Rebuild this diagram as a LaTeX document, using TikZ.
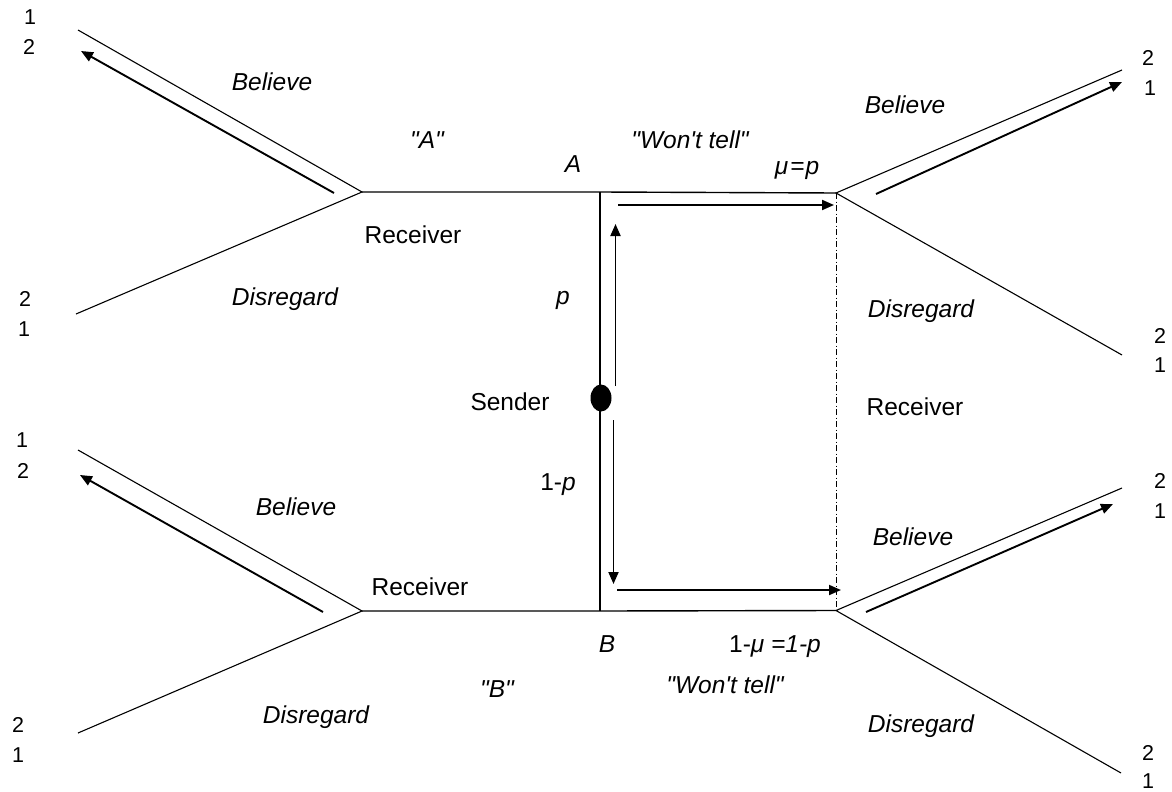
\documentclass[tikz,border=0pt]{standalone}
\usepackage{fontspec}
\setmainfont{Liberation Sans}
\usetikzlibrary{arrows.meta,shapes.geometric}
\newcommand{\dq}{\textquotedbl}
\newcommand{\sq}{\textquotesingle}
\begin{document}
\begin{tikzpicture}[x=1pt,y=-1pt,
  branch/.style={line width=1.1pt},
  trunk/.style={line width=1.4pt},
  flow/.style={line width=1.9pt,-{Triangle[length=12pt,width=10pt]}},
  infoset/.style={line width=0.9pt,dash pattern=on 6pt off 2.5pt on 1pt off 2.5pt},
  lab/.style={anchor=base,inner sep=0pt,font=\fontsize{24.5}{28}\selectfont},
  ilab/.style={lab,font=\fontsize{24.5}{28}\selectfont\itshape},
  pay/.style={anchor=base,inner sep=0pt,font=\fontsize{21.5}{25}\selectfont}]
\useasboundingbox (0,0) rectangle (1172,792);

% decision points
\coordinate (RA) at (362,192);
\coordinate (SA) at (600,192);
\coordinate (SB) at (600,611);
\coordinate (RB) at (362,611);
\coordinate (RW1) at (836,193);
\coordinate (RW2) at (836,610.5);
% terminal points
\coordinate (LA1) at (78,30);
\coordinate (LA2) at (76,314);
\coordinate (LB1) at (78,450);
\coordinate (LB2) at (78,733);
\coordinate (RW1a) at (1122,70);
\coordinate (RW1b) at (1122,355);
\coordinate (RW2a) at (1122,488);
\coordinate (RW2b) at (1121,773);

% game tree
\draw[trunk] (RA) -- (SA) -- (RW1);
\draw[trunk] (RB) -- (SB) -- (RW2);
\draw[trunk] (SA) -- (SB);
\draw[branch] (LA1) -- (RA) -- (LA2);
\draw[branch] (LB1) -- (RB) -- (LB2);
\draw[branch] (RW1a) -- (RW1) -- (RW1b);
\draw[branch] (RW2a) -- (RW2) -- (RW2b);
\draw[infoset] (RW1) -- (RW2);

% sender node
\node[fill=black,ellipse,minimum width=21pt,minimum height=27pt,inner sep=0pt] (S) at (601,398) {};

% equilibrium path arrows
\coordinate (a1s) at (334,193); \coordinate (a1e) at (81,51);
\coordinate (a2s) at (323,612); \coordinate (a2e) at (80,475);
\coordinate (a3s) at (876,194); \coordinate (a3e) at (1122,82);
\coordinate (a4s) at (866,612); \coordinate (a4e) at (1113,504);
\coordinate (h1s) at (618,205); \coordinate (h1e) at (834,205);
\coordinate (h2s) at (617,590); \coordinate (h2e) at (841,590);
\coordinate (v1s) at (615.5,386); \coordinate (v1e) at (615.5,224);
\coordinate (v2s) at (613.5,420); \coordinate (v2e) at (613.5,584);
\draw[flow] (a1s) -- (a1e);
\draw[flow] (a2s) -- (a2e);
\draw[flow] (a3s) -- (a3e);
\draw[flow] (a4s) -- (a4e);
\draw[flow] (h1s) -- (h1e);
\draw[flow] (h2s) -- (h2e);
\draw[flow] (v1s) -- (v1e);
\draw[flow] (v2s) -- (v2e);

% payoffs
\node[pay] (p1) at (30,25) {1};   \node[pay] (p2) at (29,55) {2};
\node[pay] (p3) at (25,306) {2};  \node[pay] (p4) at (24,336) {1};
\node[pay] (p5) at (22,447) {1};  \node[pay] (p6) at (23,478) {2};
\node[pay] (p7) at (18,732) {2};  \node[pay] (p8) at (18,762) {1};
\node[pay] (p9) at (1148,66) {2}; \node[pay] (p10) at (1150,95) {1};
\node[pay] (p11) at (1160,343) {2}; \node[pay] (p12) at (1160,372) {1};
\node[pay] (p13) at (1160,488) {2}; \node[pay] (p14) at (1160,518) {1};
\node[pay] (p15) at (1148,760) {2}; \node[pay] (p16) at (1148,788) {1};

% labels
\node[ilab] (t1) at (272,90) {Believe};
\node[ilab] (t2) at (427,148) {\dq A\dq};
\node[ilab] (t3) at (573,172) {A};
\node[ilab] (t4) at (690,148) {\dq Won\sq t tell\dq};
\node[ilab] (t5) at (797,174) {μ\kern2pt=\kern1pt p};
\node[ilab] (t6) at (905,113) {Believe};
\node[lab]  (t7) at (413,243) {Receiver};
\node[ilab] (t8) at (285,305) {Disregard};
\node[ilab] (t9) at (563,304) {p};
\node[ilab] (t10) at (921,317) {Disregard};
\node[lab]  (t11) at (510,410) {Sender};
\node[lab]  (t12) at (915,415) {Receiver};
\node[lab]  (t13) at (558,490) {1-\textit{p}};
\node[ilab] (t14) at (296,515) {Believe};
\node[ilab] (t15) at (913,545) {Believe};
\node[lab]  (t16) at (420,595) {Receiver};
\node[ilab] (t17) at (607,652) {B};
\node[lab]  (t18) at (775,652) {1-\textit{μ} \textit{=1-p}};
\node[ilab] (t19) at (497,697) {\dq B\dq};
\node[ilab] (t20) at (725,693) {\dq Won\sq t tell\dq};
\node[ilab] (t21) at (316,723) {Disregard};
\node[ilab] (t22) at (921,732) {Disregard};
\end{tikzpicture}
\end{document}
